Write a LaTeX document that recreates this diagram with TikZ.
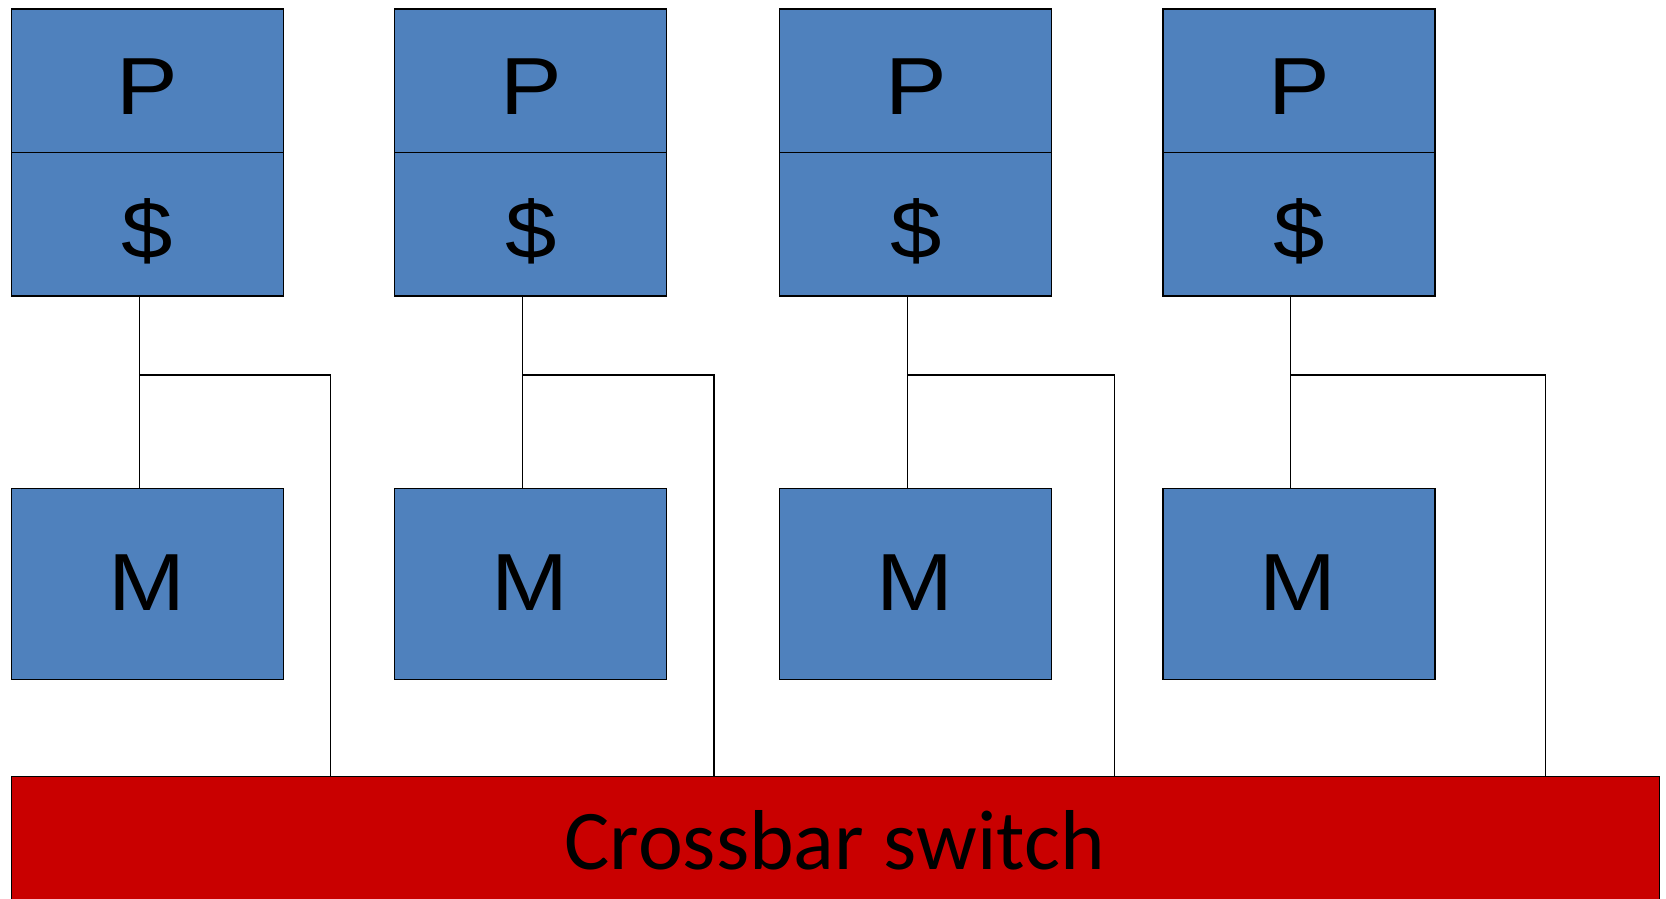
\documentclass[tikz,border=0pt]{standalone}
\usepackage{fontspec}
\setmainfont{Liberation Sans}
\newfontfamily\calibrifont{Carlito}
\definecolor{cellblue}{HTML}{4F81BD}
\definecolor{xbarred}{HTML}{C90000}
\newcommand{\widechar}[1]{\scalebox{1.14}[1]{#1}}
\begin{document}
\begin{tikzpicture}[x=1pt,y=-1pt,
  cell/.style={draw=black, line width=1.2pt, fill=cellblue, minimum width=272pt,
               inner sep=0pt, anchor=north west},
  glyph/.style={anchor=base, inner sep=0pt, font=\fontsize{81}{97}\selectfont},
  wire/.style={draw=black, line width=1.1pt},
]
\useasboundingbox (0,0) rectangle (1666,899);
\clip (0,0) rectangle (1666,899);

% crossbar switch along the bottom
\node[draw=black, line width=1.5pt, fill=xbarred, anchor=north west,
      minimum width=1648pt, minimum height=140pt, inner sep=0pt] (xbar) at (10.6,775.6) {};
\node[anchor=base, inner sep=0pt, font=\calibrifont\fontsize{85}{102}\selectfont]
      (xbart) at (834.6,869) {Crossbar switch};

% four processor / cache / memory columns
\foreach \i/\L/\R in {1/10.6/330.4, 2/394.2/714.0, 3/778.8/1114.6, 4/1162.4/1545.9} {
  \node[cell, minimum height=143.4pt] (p\i) at (\L,8.5) {};
  \node[cell, minimum height=143.5pt] (c\i) at (\L,151.9) {};
  \node[cell, minimum height=191.3pt] (m\i) at (\L,487.7) {};
  \node[glyph] (pt\i) at ({\L+137},114) {\widechar{P}};
  \node[glyph] (ct\i) at ({\L+137},258.5) {\widechar{\$}};
  \node[glyph] (mt\i) at ({\L+136},610) {\widechar{M}};
  \coordinate (j\i) at ({\L+128.5},375);
  \coordinate (r\i) at (\R,375);
  \draw[wire] (c\i.south -| j\i) -- (m\i.north -| j\i);
  \draw[wire] (j\i) -- (r\i) -- (r\i |- xbar.north);
}
\end{tikzpicture}
\end{document}
